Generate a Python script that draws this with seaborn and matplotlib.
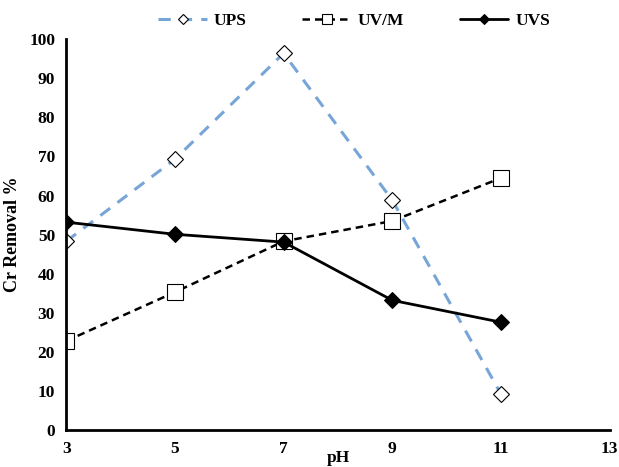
import pandas as pd
import matplotlib.pyplot as plt
import seaborn as sns

ph = [3, 5, 7, 9, 11]
ups = [48.3, 69.3, 96.4, 58.8, 9.2]
uvm = [22.8, 35.3, 48.3, 53.5, 64.5]
uvs = [53.2, 50.1, 48.1, 33.2, 27.6]

sns.set_style("white")
plt.rcParams['font.family'] = ['Liberation Serif', 'DejaVu Serif']
plt.rcParams['font.weight'] = 'bold'
plt.rcParams['text.color'] = 'black'
plt.rcParams['xtick.color'] = 'black'
plt.rcParams['ytick.color'] = 'black'
plt.rcParams['axes.labelcolor'] = 'black'

fig = plt.figure(figsize=(6.19, 4.67), dpi=100)
ax = fig.add_axes([0.107, 0.079, 0.878, 0.837])

sns.lineplot(x=ph, y=ups, ax=ax, color='#77A5D8', lw=2.2,
             linestyle=(0, (4, 3)), marker='D', markersize=8, markerfacecolor='white',
             markeredgecolor='black', markeredgewidth=0.8, label='UPS')
sns.lineplot(x=ph, y=uvm, ax=ax, color='black', lw=1.8,
             linestyle=(0, (3, 2)), marker='s', markersize=12, markerfacecolor='white',
             markeredgecolor='black', markeredgewidth=0.8, label='UV/M')
sns.lineplot(x=ph, y=uvs, ax=ax, color='black', lw=2,
             marker='D', markersize=8, markerfacecolor='black',
             markeredgecolor='black', label='UVS')

ax.set_xlim(3, 13)
ax.set_ylim(0, 100)
ax.set_xticks([3, 5, 7, 9, 11, 13])
ax.set_yticks(range(0, 101, 10))
ax.tick_params(axis='both', length=0, labelsize=12.5, pad=8)
for lab in ax.get_xticklabels() + ax.get_yticklabels():
    lab.set_fontweight('bold')

for side in ['top', 'right']:
    ax.spines[side].set_visible(False)
for side in ['left', 'bottom']:
    ax.spines[side].set_linewidth(2)
    ax.spines[side].set_color('black')

ax.set_xlabel('pH', fontsize=12.5, fontweight='bold', labelpad=-5)
ax.set_ylabel('Cr Removal %', fontsize=13, fontweight='bold', labelpad=6)

ax.legend(loc='lower center', bbox_to_anchor=(0.53, 0.987), ncol=3, frameon=False,
          prop={'weight': 'bold', 'size': 12.5}, handlelength=2.8, handletextpad=0.4,
          columnspacing=3.2, markerscale=0.6)

fig.savefig('out.png', dpi=100)
